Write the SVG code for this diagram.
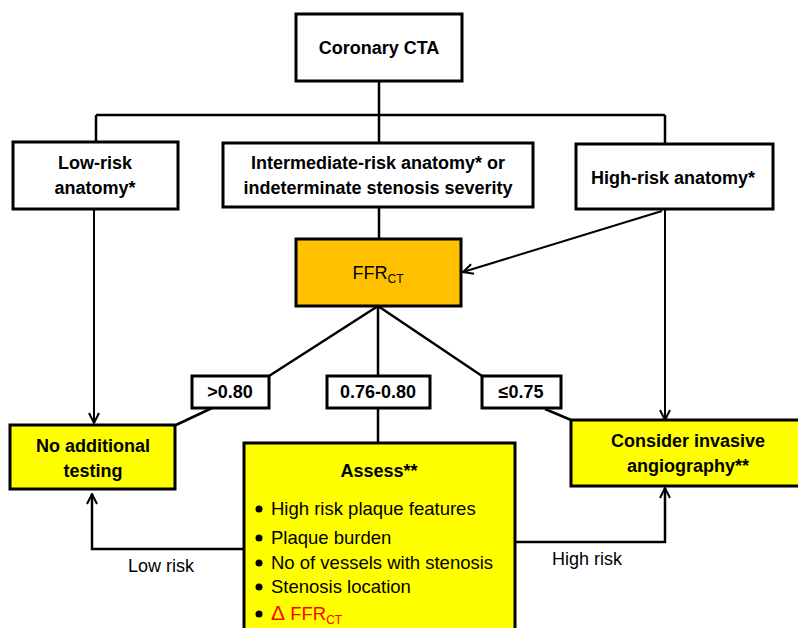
<svg xmlns="http://www.w3.org/2000/svg" width="798" height="628" viewBox="0 0 798 628">
<style>
.box{fill:#fff;stroke:#000;stroke-width:3}
.yel{fill:#ffff00;stroke:#000;stroke-width:3}
.org{fill:#ffc000;stroke:#000;stroke-width:3}
.t{font-family:"Liberation Sans",Arial,sans-serif;font-size:18px;font-weight:bold;fill:#000;text-anchor:middle}
.n{font-family:"Liberation Sans",Arial,sans-serif;font-size:18px;fill:#000}
.b{font-family:"Liberation Sans",Arial,sans-serif;font-size:18.5px;fill:#000}
.c{fill:none;stroke:#000;stroke-width:2.5}
.a{fill:none;stroke:#000;stroke-width:2}
</style>
<defs>
<marker id="ah" viewBox="0 0 12 12" refX="11" refY="6" markerWidth="12" markerHeight="12" markerUnits="userSpaceOnUse" orient="auto">
<path d="M1,1 L11,6 L1,11" fill="none" stroke="#000" stroke-width="2"/>
</marker>
</defs>
<rect width="798" height="628" fill="#fff"/>
<g id="connectors">
<path class="c" d="M379,81 V115 M96,115 H665 M96,115 V142 M379,115 V143 M665,115 V144"/>
<path class="a" d="M94,209 V423" marker-end="url(#ah)"/>
<path class="c" d="M379,207 V239"/>
<path class="a" d="M662,211 L463,272" marker-end="url(#ah)"/>
<path class="a" d="M665,209 V420" marker-end="url(#ah)"/>
<path class="c" d="M378,306 L269,376 M378,306 V376 M378,306 L482,376"/>
<path class="c" d="M212,408 L176,425 M378,408 V443 M545,409 L571,420"/>
<path class="c" d="M245,549 H92 V494" marker-end="url(#ah)"/>
<path class="c" d="M513,542 H665 V488" marker-end="url(#ah)"/>
<text class="n" x="128" y="572">Low risk</text>
<text class="n" x="552" y="565">High risk</text>
</g>
<g id="coronary-cta">
<rect class="box" x="296" y="14" width="166" height="67"/>
<text class="t" x="379" y="54">Coronary CTA</text>
</g>
<g id="low-risk">
<rect class="box" x="13" y="142" width="165" height="67"/>
<text class="t" x="95" y="169">Low-risk</text>
<text class="t" x="95" y="194">anatomy*</text>
</g>
<g id="intermediate">
<rect class="box" x="223" y="143" width="310" height="64"/>
<text class="t" x="378" y="169">Intermediate-risk anatomy* or</text>
<text class="t" x="378" y="194">indeterminate stenosis severity</text>
</g>
<g id="high-risk">
<rect class="box" x="576" y="144" width="197" height="65"/>
<text class="t" x="673" y="184">High-risk anatomy*</text>
</g>
<g id="ffrct">
<rect class="org" x="296" y="239" width="165" height="67"/>
<text class="t" x="378" y="279" font-weight="normal" style="font-weight:normal">FFR<tspan font-size="12" dy="4">CT</tspan></text>
</g>
<g id="gt080">
<rect class="box" x="192" y="376" width="77" height="32"/>
<text class="t" x="230" y="398">&gt;0.80</text>
</g>
<g id="mid">
<rect class="box" x="327" y="376" width="103" height="32"/>
<text class="t" x="378" y="398">0.76-0.80</text>
</g>
<g id="le075">
<rect class="box" x="482" y="376" width="79" height="32"/>
<text class="t" x="521" y="398">≤0.75</text>
</g>
<g id="no-additional">
<rect class="yel" x="10" y="425" width="165" height="64"/>
<text class="t" x="93" y="452">No additional</text>
<text class="t" x="93" y="477">testing</text>
</g>
<g id="consider">
<rect class="yel" x="571" y="420" width="240" height="66"/>
<text class="t" x="688" y="447">Consider invasive</text>
<text class="t" x="688" y="472">angiography**</text>
</g>
<g id="assess">
<rect class="yel" x="244" y="443" width="271" height="200"/>
<text class="t" x="379" y="477">Assess**</text>
<g fill="#000">
<circle cx="259" cy="509" r="3.5"/>
<circle cx="259" cy="538" r="3.5"/>
<circle cx="259" cy="563" r="3.5"/>
<circle cx="259" cy="587" r="3.5"/>
<circle cx="259" cy="614" r="3.5"/>
</g>
<text class="b" x="271" y="515">High risk plaque features</text>
<text class="b" x="271" y="544">Plaque burden</text>
<text class="b" x="271" y="569">No of vessels with stenosis</text>
<text class="b" x="271" y="593">Stenosis location</text>
<text class="b" x="271" y="620" fill="#ff0000" style="fill:#ff0000"><tspan font-size="21">Δ</tspan> FFR<tspan font-size="12" dy="4">CT</tspan></text>
</g>
</svg>
